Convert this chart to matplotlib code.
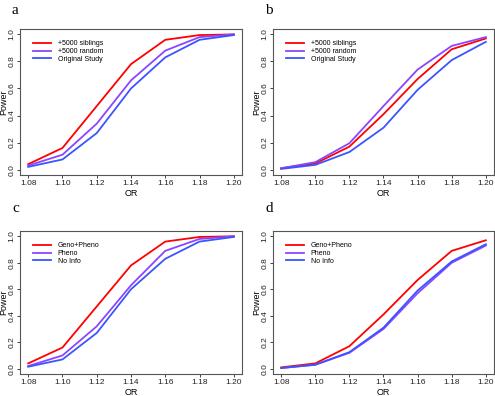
import matplotlib
matplotlib.use("Agg")
import matplotlib.pyplot as plt

odds_ratios = [1.08, 1.10, 1.12, 1.14, 1.16, 1.18, 1.20]
x_tick_labels = ["1.08", "1.10", "1.12", "1.14", "1.16", "1.18", "1.20"]
y_ticks = [0.0, 0.2, 0.4, 0.6, 0.8, 1.0]

legend_ab = ["+5000 siblings", "+5000 random", "Original Study"]
legend_cd = ["Geno+Pheno", "Pheno", "No Info"]

a_siblings = [0.04, 0.16, 0.47, 0.78, 0.96, 0.995, 1.0]
a_random = [0.03, 0.11, 0.34, 0.66, 0.88, 0.98, 1.0]
a_original = [0.02, 0.075, 0.27, 0.60, 0.83, 0.96, 0.995]

b_siblings = [0.01, 0.045, 0.17, 0.41, 0.67, 0.89, 0.97]
b_random = [0.01, 0.055, 0.195, 0.47, 0.74, 0.915, 0.98]
b_original = [0.005, 0.035, 0.13, 0.31, 0.59, 0.81, 0.945]

c_genopheno = [0.04, 0.16, 0.47, 0.78, 0.96, 0.995, 1.0]
c_pheno = [0.02, 0.10, 0.32, 0.63, 0.89, 0.98, 1.0]
c_noinfo = [0.015, 0.07, 0.27, 0.60, 0.83, 0.96, 0.995]

d_genopheno = [0.01, 0.04, 0.17, 0.41, 0.67, 0.89, 0.97]
d_pheno = [0.005, 0.03, 0.12, 0.30, 0.57, 0.80, 0.93]
d_noinfo = [0.005, 0.03, 0.125, 0.31, 0.59, 0.81, 0.94]

colors = ["#ff0000", "#8c45ff", "#3a55ff"]
sans = ["Liberation Sans", "DejaVu Sans"]
serif = ["Liberation Serif", "DejaVu Serif"]

fig = plt.figure(figsize=(4.95, 3.96), dpi=100)

W, H = 495.0, 396.0
def ax_at(l, t, r, b):
    return fig.add_axes([l / W, 1 - b / H, (r - l) / W, (b - t) / H])

panels = [
    ("a", (20, 29, 242, 175), (a_siblings, a_random, a_original), legend_ab, (12, 10), 4),
    ("b", (273, 29, 494, 175), (b_siblings, b_random, b_original), legend_ab, (265, 10), 257),
    ("c", (20, 231, 242, 374), (c_genopheno, c_pheno, c_noinfo), legend_cd, (12, 209), 4),
    ("d", (273, 231, 494, 374), (d_genopheno, d_pheno, d_noinfo), legend_cd, (265, 209), 257),
]

for label, box, series, names, lpos, ylab_x in panels:
    ax = ax_at(*box)
    for vals, col, nm in zip(series, colors, names):
        ax.plot(odds_ratios, vals, color=col, lw=1.3, label=nm)
    ax.set_xlim(1.08 - 0.0048, 1.20 + 0.0048)
    ax.set_ylim(-0.04, 1.04)
    ax.set_xticks(odds_ratios)
    ax.set_xticklabels(x_tick_labels, fontsize=6, family=sans)
    ax.set_yticks(y_ticks)
    ax.set_yticklabels([f"{v:.1f}" for v in y_ticks], fontsize=6, family=sans,
                       rotation=90, va="center")
    ax.tick_params(direction="out", length=2.5, width=0.6, pad=1.0, colors="#222222")
    for s in ax.spines.values():
        s.set_color("#555555")
        s.set_linewidth(0.8)
    ax.set_xlabel("OR", fontsize=6.5, family=sans, va="top")
    ax.xaxis.set_label_coords(0.5, -14.0 / (box[3] - box[1]))
    ax.set_ylabel("Power", fontsize=6.5, family=sans, va="center")
    ax.yaxis.set_label_coords((ylab_x - box[0]) / (box[2] - box[0]), 0.5)
    ax.legend(loc="upper left", frameon=False, prop={"family": sans, "size": 5},
              handlelength=2.6, handletextpad=1.0, labelspacing=0.12,
              borderaxespad=0.8, bbox_to_anchor=(0.02, 0.98))
    fig.text(lpos[0] / W, 1 - lpos[1] / H, label, fontsize=11, family=serif,
             ha="left", va="center")

fig.savefig("out.png", dpi=100)
